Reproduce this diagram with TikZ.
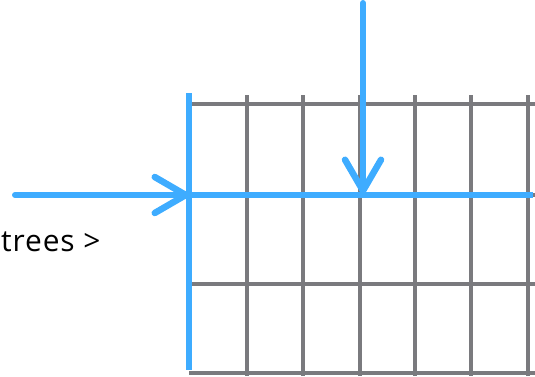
\documentclass[tikz,border=0pt]{standalone}
\usepackage{fontspec}
\setmainfont{Open Sans}
\usetikzlibrary{arrows.meta}
\definecolor{gridgrey}{RGB}{122,122,126}
\definecolor{pathblue}{RGB}{62,172,255}
\tikzset{
  gridline/.style={draw=gridgrey, line width=3.6bp},
  blueline/.style={draw=pathblue, line width=6bp},
  bluearrow/.style={blueline, line cap=round,
    -{Straight Barb[length=31bp, width=36bp, line width=6.5bp, round]}},
}
\begin{document}
\begin{tikzpicture}[x=1bp, y=1bp]
\useasboundingbox (0,0) rectangle (535,376);
% grid
\foreach \y in {272,181,92,3}
  \draw[gridline] (189,\y) -- (535,\y);
\foreach \x in {247,303,360,415,471,528}
  \draw[gridline] (\x,281) -- (\x,0);
% blue edges
\coordinate (corner) at (189,181);
\coordinate (edgetop) at (189,283);
\coordinate (edgebottom) at (189,6);
\coordinate (edgeright) at (533,181);
\coordinate (leftstart) at (15,181);
\coordinate (topstart) at (363,373);
\coordinate (topend) at (363,182);
\draw[blueline] (edgetop) -- (edgebottom);
\draw[blueline] (corner) -- (edgeright);
\draw[bluearrow] (leftstart) -- (corner);
\draw[bluearrow] (topstart) -- (topend);
% label
\node[anchor=west, font=\fontsize{30}{34}\selectfont\addfontfeature{LetterSpace=3}, inner sep=0pt] (treelabel) at (1,134) {trees >};
\end{tikzpicture}
\end{document}
